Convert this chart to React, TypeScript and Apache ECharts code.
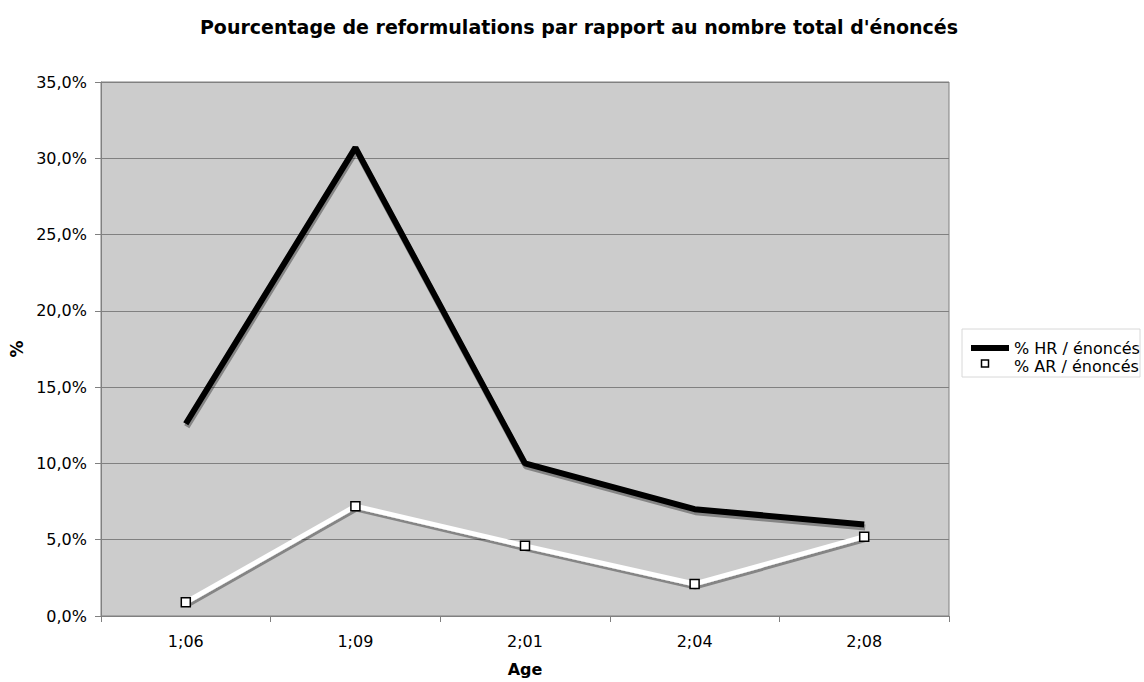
import React, { useEffect, useRef } from "react";
import * as echarts from "echarts";

const categories = ["1;06", "1;09", "2;01", "2;04", "2;08"];
const hrValues = [12.6, 30.7, 10.0, 7.0, 6.0];
const arValues = [0.9, 7.2, 4.6, 2.1, 5.2];
const hrName = "% HR / énoncés";
const arName = "% AR / énoncés";
const titleText = "Pourcentage de reformulations par rapport au nombre total d'énoncés";

const FONT = "DejaVu Sans, Verdana, sans-serif";

export default function App() {
  const ref = useRef<HTMLDivElement>(null);
  useEffect(() => {
    if (!ref.current) return;
    const chart = echarts.init(ref.current, undefined, { renderer: "svg" });
    chart.setOption({
      animation: false,
      textStyle: { fontFamily: FONT, color: "#000" },
      title: {
        text: titleText,
        left: 574,
        textAlign: "center",
        top: 12,
        textStyle: { fontFamily: FONT, fontSize: 19, fontWeight: "bold", color: "#000" },
      },
      grid: {
        left: 101,
        right: 195,
        top: 82,
        bottom: 60,
        show: true,
        backgroundColor: "#cccccc",
        borderColor: "#808080",
        borderWidth: 1,
      },
      xAxis: {
        type: "category",
        data: categories,
        boundaryGap: true,
        name: "Age",
        nameLocation: "middle",
        nameGap: 45,
        nameTextStyle: { fontFamily: FONT, fontSize: 16, fontWeight: "bold", color: "#000" },
        axisLine: { lineStyle: { color: "#808080", width: 1 } },
        axisTick: { show: true, alignWithLabel: false, length: 6, lineStyle: { color: "#808080" } },
        axisLabel: { fontFamily: FONT, fontSize: 16, color: "#000", margin: 17 },
        splitLine: { show: false },
      },
      yAxis: {
        type: "value",
        min: 0,
        max: 35,
        interval: 5,
        name: "%",
        nameLocation: "middle",
        nameGap: 74,
        nameRotate: 90,
        nameTextStyle: { fontFamily: FONT, fontSize: 17, fontWeight: "bold", color: "#000" },
        axisLine: { show: true, lineStyle: { color: "#808080", width: 1 } },
        axisTick: { show: true, length: 6, lineStyle: { color: "#808080" } },
        axisLabel: {
          fontFamily: FONT,
          fontSize: 16,
          color: "#000",
          margin: 14,
          formatter: (v: number) => v.toFixed(1).replace(".", ",") + "%",
        },
        splitLine: { show: true, lineStyle: { color: "#808080", width: 1 } },
      },
      legend: [
        {
          data: [hrName],
          left: 966,
          top: 335,
          orient: "vertical",
          icon: "rect",
          itemWidth: 38,
          itemHeight: 6,
          itemStyle: { color: "#000", borderWidth: 0 },
          textStyle: { fontFamily: FONT, fontSize: 16, color: "#000" },
        },
        {
          data: [arName],
          left: 966,
          top: 353,
          orient: "vertical",
          icon: "none",
          itemWidth: 38,
          itemHeight: 6,
          textStyle: { fontFamily: FONT, fontSize: 16, color: "#000" },
        },
      ],
      graphic: [
        {
          type: "rect",
          shape: { x: 962, y: 329, width: 178, height: 48 },
          style: { fill: "#fff", stroke: "#d8d8d8", lineWidth: 1 },
          z: -10,
        },
        {
          type: "rect",
          shape: { x: 981.5, y: 360, width: 7, height: 7 },
          style: { fill: "#fff", stroke: "#000", lineWidth: 1.5 },
          z: 100,
        },
      ],
      series: [
        {
          name: hrName,
          type: "line",
          data: hrValues,
          symbol: "none",
          lineStyle: {
            color: "#000",
            width: 6,
            shadowColor: "rgba(0,0,0,0.35)",
            shadowOffsetY: 3,
            shadowOffsetX: 1,
            shadowBlur: 1,
          },
          itemStyle: { color: "#000" },
          z: 3,
        },
        {
          name: arName,
          type: "line",
          data: arValues,
          symbol: "rect",
          symbolSize: 9,
          showAllSymbol: true,
          lineStyle: {
            color: "#fff",
            width: 5,
            shadowColor: "rgba(0,0,0,0.35)",
            shadowOffsetY: 3,
            shadowOffsetX: 1,
            shadowBlur: 1,
          },
          itemStyle: { color: "#fff", borderColor: "#000", borderWidth: 1.5 },
          z: 4,
        },
      ],
    });
    return () => chart.dispose();
  }, []);
  return (
    <div
      ref={ref}
      style={{ position: "absolute", left: 0, top: 0, width: 1144, height: 682 }}
    />
  );
}
